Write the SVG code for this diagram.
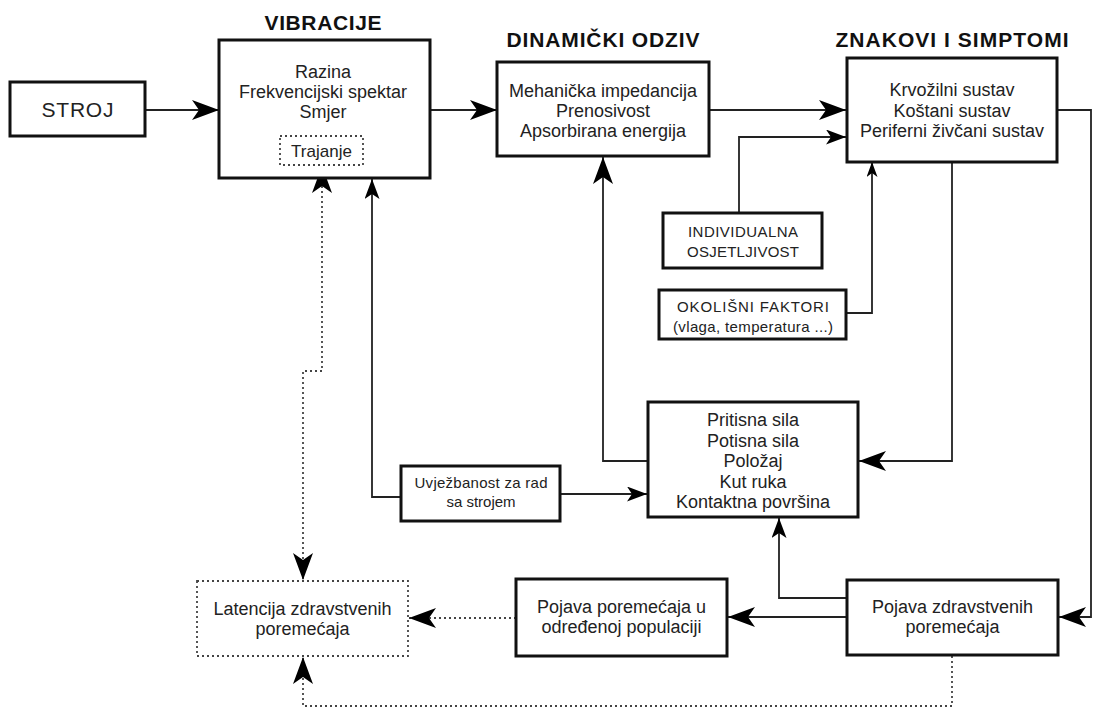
<svg xmlns="http://www.w3.org/2000/svg" width="1095" height="709" viewBox="0 0 1095 709">
<style>
.box{fill:#fff;stroke:#111;stroke-width:3}
.dbox{fill:#fff;stroke:#444;stroke-width:1.8;stroke-dasharray:2,3}
.t{font-family:"Liberation Sans",Arial,sans-serif;font-size:18px;fill:#222;text-anchor:middle}
.s{font-size:15px}
.h{font-family:"Liberation Sans",Arial,sans-serif;font-size:21px;font-weight:bold;fill:#111;text-anchor:middle}
.c{fill:none;stroke:#222;stroke-width:1.8}
.d{fill:none;stroke:#444;stroke-width:1.8;stroke-dasharray:2,3}
</style>
<defs>
<marker id="big" viewBox="0 -10 27 20" refX="27" refY="0" markerWidth="27" markerHeight="20" markerUnits="userSpaceOnUse" orient="auto-start-reverse">
<path d="M0,-10 L27,0 L0,10 L7,0 Z" fill="#000"/>
</marker>
<marker id="med" viewBox="0 -7.5 20 15" refX="20" refY="0" markerWidth="20" markerHeight="15" markerUnits="userSpaceOnUse" orient="auto">
<path d="M0,-7.5 L20,0 L0,7.5 L5,0 Z" fill="#000"/>
</marker>
<marker id="small" viewBox="0 -5.5 15 11" refX="15" refY="0" markerWidth="15" markerHeight="11" markerUnits="userSpaceOnUse" orient="auto">
<path d="M0,-5.5 L15,0 L0,5.5 L4,0 Z" fill="#000"/>
</marker>
</defs>
<rect width="1095" height="709" fill="#fff"/>

<g id="connectors">
<path class="c" d="M145,110 H219" marker-end="url(#big)"/>
<path class="c" d="M430,110 H497" marker-end="url(#big)"/>
<path class="c" d="M709,110 H846" marker-end="url(#big)"/>
<path class="c" d="M739,213 V137 H846" marker-end="url(#med)"/>
<path class="c" d="M846,313 H872 V162" marker-end="url(#small)"/>
<path class="c" d="M952,162 V461 H859" marker-end="url(#big)"/>
<path class="c" d="M1057,110 H1091 V617 H1059" marker-end="url(#big)"/>
<path class="c" d="M847,617 H728" marker-end="url(#big)"/>
<path class="c" d="M847,598 H779 V518" marker-end="url(#med)"/>
<path class="c" d="M648,461 H603 V157" marker-end="url(#big)"/>
<path class="c" d="M560,494 H647" marker-end="url(#med)"/>
<path class="c" d="M401,497 H372 V179" marker-end="url(#med)"/>
<path class="d" d="M322,166 V371 H303 V580" marker-start="url(#big)" marker-end="url(#big)"/>
<path class="d" d="M516,618 H409" marker-end="url(#big)"/>
<path class="d" d="M952,656 V706 H303 V657" marker-end="url(#big)"/>
</g>

<g id="stroj">
<rect class="box" x="10" y="82" width="135" height="54"/>
<text class="t" x="77.5" y="117" style="font-size:21px" textLength="72">STROJ</text>
</g>

<g id="vibracije">
<text class="h" x="323" y="30" textLength="117">VIBRACIJE</text>
<rect class="box" x="219" y="40" width="211" height="138"/>
<text class="t" x="323" y="78">Razina</text>
<text class="t" x="323" y="98">Frekvencijski spektar</text>
<text class="t" x="323" y="118">Smjer</text>
</g>

<g id="trajanje">
<rect class="dbox" x="280" y="136" width="83" height="29"/>
<text class="t" x="321.5" y="157" style="font-size:17px">Trajanje</text>
</g>

<g id="dinamicki">
<text class="h" x="603" y="47" textLength="193">DINAMIČKI ODZIV</text>
<rect class="box" x="497" y="62" width="212" height="94"/>
<text class="t" x="603" y="97">Mehanička impedancija</text>
<text class="t" x="603" y="117">Prenosivost</text>
<text class="t" x="603" y="137">Apsorbirana energija</text>
</g>

<g id="znakovi">
<text class="h" x="952" y="47" textLength="233">ZNAKOVI I SIMPTOMI</text>
<rect class="box" x="847" y="58" width="210" height="104"/>
<text class="t" x="952" y="96">Krvožilni sustav</text>
<text class="t" x="952" y="116.5">Koštani sustav</text>
<text class="t" x="952" y="137">Periferni živčani sustav</text>
</g>

<g id="individualna">
<rect class="box" x="663" y="213" width="159" height="55"/>
<text class="t s" x="743" y="237" textLength="110">INDIVIDUALNA</text>
<text class="t s" x="743" y="257" textLength="112">OSJETLJIVOST</text>
</g>

<g id="okolisni">
<rect class="box" x="659" y="290" width="187" height="49"/>
<text class="t s" x="753" y="312" textLength="152">OKOLIŠNI FAKTORI</text>
<text class="t s" x="753" y="332" textLength="160">(vlaga, temperatura ...)</text>
</g>

<g id="pritisna">
<rect class="box" x="648" y="402" width="210" height="115"/>
<text class="t" x="753" y="426">Pritisna sila</text>
<text class="t" x="753" y="446.5">Potisna sila</text>
<text class="t" x="753" y="467">Položaj</text>
<text class="t" x="753" y="487.5">Kut ruka</text>
<text class="t" x="753" y="508">Kontaktna površina</text>
</g>

<g id="uvjezbanost">
<rect class="box" x="401" y="466" width="159" height="55"/>
<text class="t s" x="481" y="488" textLength="133">Uvježbanost za rad</text>
<text class="t s" x="481" y="507">sa strojem</text>
</g>

<g id="latencija">
<rect class="dbox" x="197" y="581" width="211" height="75"/>
<text class="t" x="302.5" y="615">Latencija zdravstvenih</text>
<text class="t" x="302.5" y="635">poremećaja</text>
</g>

<g id="pojava-populacija">
<rect class="box" x="516" y="579" width="211" height="77"/>
<text class="t" x="621.5" y="613">Pojava poremećaja u</text>
<text class="t" x="621.5" y="633">određenoj populaciji</text>
</g>

<g id="pojava-zdravstvenih">
<rect class="box" x="847" y="580" width="211" height="75"/>
<text class="t" x="952.5" y="613">Pojava zdravstvenih</text>
<text class="t" x="952.5" y="633">poremećaja</text>
</g>
</svg>
